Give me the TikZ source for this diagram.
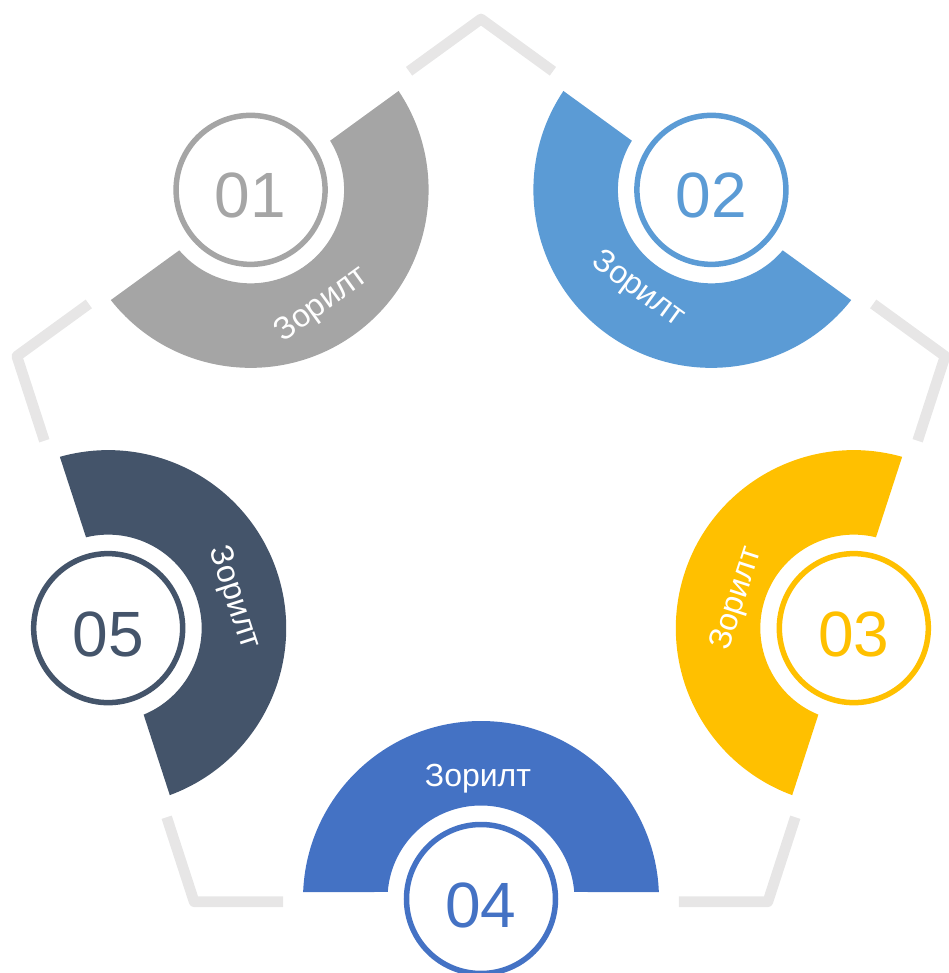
\documentclass[tikz,border=0pt]{standalone}
\usepackage{fontspec}
\setmainfont{Liberation Sans}
\usetikzlibrary{calc}
\definecolor{grisA}{HTML}{A5A5A5}
\definecolor{bleuA}{HTML}{5B9BD5}
\definecolor{jaune}{HTML}{FFC000}
\definecolor{bleuB}{HTML}{4472C4}
\definecolor{ardoise}{HTML}{44546A}
\definecolor{cadre}{HTML}{E7E6E6}
\begin{document}
\begin{tikzpicture}[x=0.5pt,y=0.5pt,
  num/.style={circle,draw=#1,line width=2.75pt,minimum size=74.5pt,inner sep=0pt,text=#1,font=\fontsize{32}{32}\selectfont,text height=28pt,text depth=0pt},
  lab/.style={text=white,font=\fontsize{16}{16}\selectfont,inner sep=0pt,text depth=0pt}]
\useasboundingbox(-481,-466)rectangle(467,507);
% pentagon corners
\foreach \i/\a in {1/90,2/162,3/234,4/306,5/18}{\coordinate(p\i)at(\a:488);}
\foreach \i/\j/\k in {1/2/5,2/3/1,3/4/2,4/5/3,5/1/4}{\draw[cadre,line width=5.35pt,line join=round]($(p\i)!0.155!(p\j)$)--(p\i)--($(p\i)!0.155!(p\k)$);}
% half rings, circles, labels
\foreach \k/\f/\c/\r/\tx/\ty in {01/126/grisA/36/-161/205,02/54/bleuA/-36/159/220,03/-18/jaune/72/253/-91,04/-90/bleuB/0/-3/-268,05/198/ardoise/-72/-244/-90}{
  \coordinate(m\k)at(\f:392);
  \fill[\c,shift={(m\k)}](\f+92.25:178)arc[start angle=\f+92.25,end angle=\f+267.75,radius=178]--(\f+265.7:93.5)arc[start angle=\f+265.7,end angle=\f+94.3,radius=93.5]--cycle;
  \node[num=\c](c\k)at(m\k){\k};
  \node[lab,rotate=\r](t\k)at(\tx,\ty){Зорилт};
}
\end{tikzpicture}
\end{document}
